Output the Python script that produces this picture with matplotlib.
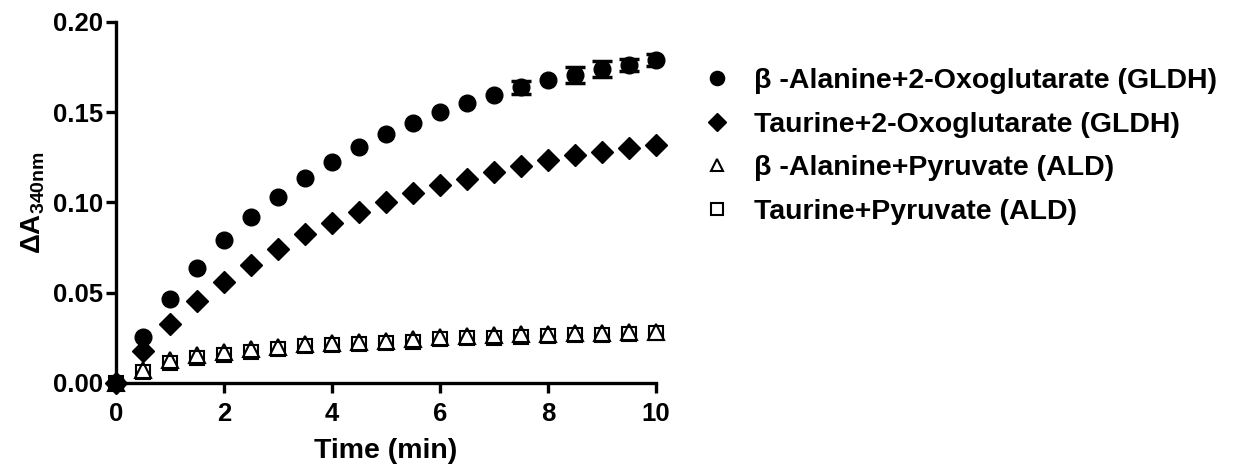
import numpy as np
import matplotlib
matplotlib.use("Agg")
import matplotlib.pyplot as plt

plt.rcParams['font.family'] = ['Liberation Sans', 'DejaVu Sans']
plt.rcParams['font.weight'] = 'bold'
plt.rcParams['mathtext.fontset'] = 'custom'
plt.rcParams['mathtext.rm'] = 'Liberation Sans:bold'
plt.rcParams['mathtext.it'] = 'Liberation Sans:bold'
plt.rcParams['mathtext.bf'] = 'Liberation Sans:bold'

t = np.arange(0, 10.5, 0.5)

# beta-Alanine + 2-Oxoglutarate (GLDH)
ala_og = np.array([0.0, 0.0255, 0.0465, 0.0639, 0.079, 0.092, 0.103, 0.1138, 0.1222, 0.1307,
                   0.138, 0.1439, 0.1503, 0.155, 0.1596, 0.1638, 0.1679, 0.1706, 0.174, 0.1762, 0.179])
ala_og_err = np.array([0, 0, 0, 0, 0, 0, 0, 0, 0, 0,
                       0, 0, 0, 0, 0, 0.0035, 0, 0.0042, 0.0042, 0.0035, 0.0035])
# Taurine + 2-Oxoglutarate (GLDH)
tau_og = [0.0, 0.0179, 0.0327, 0.0454, 0.0561, 0.0654, 0.0742, 0.0823, 0.0888, 0.0947,
          0.1001, 0.1051, 0.1097, 0.113, 0.1169, 0.1204, 0.1234, 0.1262, 0.1282, 0.1302, 0.1318]
# beta-Alanine + Pyruvate (ALD)
ala_pyr = [0.0, 0.0072, 0.0127, 0.0155, 0.017, 0.0186, 0.0197, 0.0214, 0.022, 0.0227,
           0.0233, 0.0244, 0.0257, 0.0262, 0.0266, 0.027, 0.0273, 0.0276, 0.0279, 0.0282, 0.0284]
# Taurine + Pyruvate (ALD)
tau_pyr = [0.0, 0.0063, 0.0109, 0.0137, 0.0155, 0.0173, 0.0188, 0.0207, 0.021, 0.0216,
           0.022, 0.0229, 0.0242, 0.0247, 0.0251, 0.0256, 0.0261, 0.0265, 0.0268, 0.0272, 0.0275]

labels = ['\u03b2 -Alanine+2-Oxoglutarate (GLDH)',
          'Taurine+2-Oxoglutarate (GLDH)',
          '\u03b2 -Alanine+Pyruvate (ALD)',
          'Taurine+Pyruvate (ALD)']

fig = plt.figure(figsize=(12.58, 4.76), dpi=100)
ax = fig.add_axes([0.0922, 0.1954, 0.4293, 0.7584])

h_sq, = ax.plot(t, tau_pyr, 's', ms=10, mfc='white', mec='black', mew=1.5, clip_on=False, zorder=3)
h_tr, = ax.plot(t, ala_pyr, '^', ms=11, mfc='none', mec='black', mew=1.5, clip_on=False, zorder=4)
h_di, = ax.plot(t, tau_og, 'D', ms=11, color='black', clip_on=False, zorder=5)
h_ci, = ax.plot(t, ala_og, 'o', ms=12, color='black', clip_on=False, zorder=6)
has_err = ala_og_err > 0
ax.errorbar(t[has_err], ala_og[has_err], yerr=ala_og_err[has_err], fmt='none', ecolor='black',
            elinewidth=2, capsize=7, capthick=2.5, zorder=7)

ax.set_xlim(0, 10)
ax.set_ylim(0, 0.20)
ax.set_xticks([0, 2, 4, 6, 8, 10])
ax.set_yticks([0.0, 0.05, 0.10, 0.15, 0.20])
ax.set_yticklabels(['0.00', '0.05', '0.10', '0.15', '0.20'])
for s in ['top', 'right']:
    ax.spines[s].set_visible(False)
for s in ['left', 'bottom']:
    ax.spines[s].set_linewidth(2.4)
ax.tick_params(width=2.4, length=7.5, labelsize=18.5, pad=2)
ax.tick_params(axis='x', pad=6)
for lb in ax.get_xticklabels() + ax.get_yticklabels():
    lb.set_fontweight('bold')

ax.set_xlabel('Time (min)', fontsize=20.5, fontweight='bold', labelpad=9)
ax.set_ylabel(r'$\Delta$A$_{340nm}$', fontsize=20, fontweight='bold', labelpad=4)

leg = ax.legend([h_ci, h_di, h_tr, h_sq], labels,
                loc='upper left', bbox_to_anchor=(0.5588, 0.857), bbox_transform=fig.transFigure,
                frameon=False, prop={'weight': 'bold', 'size': 20.5},
                handlelength=1.0, handletextpad=0.8, labelspacing=0.62,
                borderaxespad=0, borderpad=0, markerscale=0.85)

fig.savefig('out.png', dpi=100)
